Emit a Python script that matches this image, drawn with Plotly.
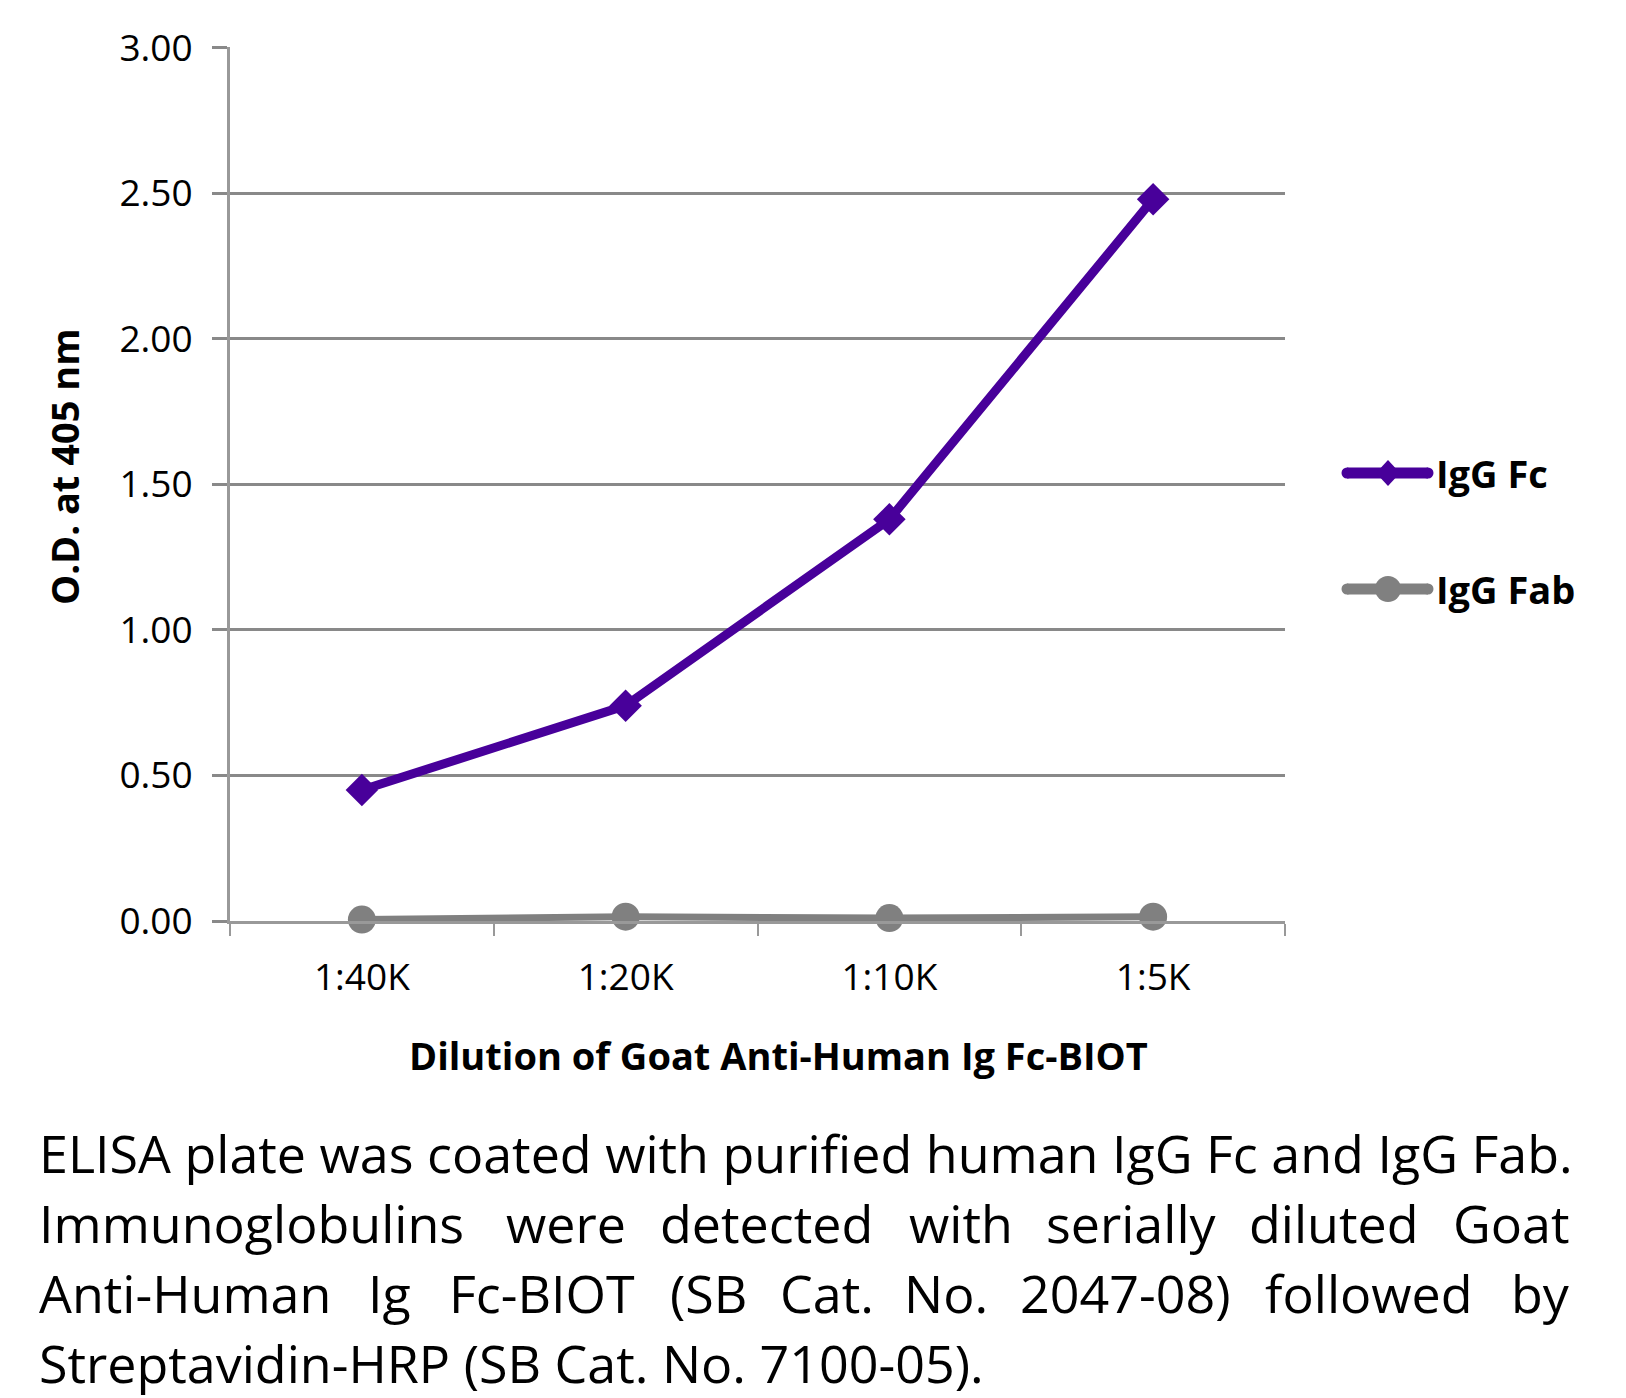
import plotly.graph_objects as go

# ---------------- data ----------------
dilutions = ["1:40K", "1:20K", "1:10K", "1:5K"]
igg_fc = [0.45, 0.74, 1.38, 2.48]
igg_fab = [0.005, 0.015, 0.01, 0.015]
y_ticks = [0.0, 0.5, 1.0, 1.5, 2.0, 2.5, 3.0]
y_tick_labels = ["0.00", "0.50", "1.00", "1.50", "2.00", "2.50", "3.00"]
series_names = ["IgG Fc", "IgG Fab"]

x_title = "Dilution of Goat Anti-Human Ig Fc-BIOT"
y_title = "O.D. at 405 nm"
caption_line1 = "ELISA plate was coated with purified human IgG Fc and IgG Fab."
caption_line2 = ["Immunoglobulins", "were", "detected", "with", "serially", "diluted", "Goat"]
caption_line3 = ["Anti-Human", "Ig", "Fc-BIOT", "(SB", "Cat.", "No.", "2047-08)", "followed", "by"]
caption_line4 = "Streptavidin-HRP (SB Cat. No. 7100-05)."

# ---------------- layout constants ----------------
W, H = 1626, 1398
L, R = 230, 1285          # plot area left/right (px)
T, B = 47, 921            # plot area top/bottom (px)
FONT = "Open Sans"
PURPLE = "#48009A"
GREY = "#808080"
GRID = "#898989"


def px_x(x):
    return (x - L) / (R - L)


def px_y(y):
    return (B - y) / (B - T)


fig = go.Figure()

fig.add_trace(go.Scatter(
    x=dilutions, y=igg_fab, name=series_names[1], mode="lines+markers",
    line=dict(color=GREY, width=7),
    marker=dict(symbol="circle", size=28, color=GREY),
    cliponaxis=False, showlegend=False,
))
fig.add_trace(go.Scatter(
    x=dilutions, y=igg_fc, name=series_names[0], mode="lines+markers",
    line=dict(color=PURPLE, width=9),
    marker=dict(symbol="diamond", size=25, color=PURPLE),
    cliponaxis=False, showlegend=False,
))

annotations = []
shapes = []

# axis titles
annotations.append(dict(
    text=x_title, x=px_x(778), y=px_y(1055), xref="paper", yref="paper",
    xanchor="center", yanchor="middle", showarrow=False,
    font=dict(family=FONT, size=38, color="black", weight=700),
))
annotations.append(dict(
    text=y_title, x=px_x(64), y=px_y(467), xref="paper", yref="paper",
    xanchor="center", yanchor="middle", showarrow=False, textangle=-90,
    font=dict(family=FONT, size=38, color="black", weight=700),
))

# ---------------- legend (drawn as layout items) ----------------
leg_rows = [473, 589]
leg_colors = [PURPLE, GREY]
leg_x0, leg_x1, leg_mid = 1347, 1428, 1388
for name, yc, col, sym in zip(series_names, leg_rows, leg_colors, ["diamond", "circle"]):
    shapes.append(dict(type="line", xref="paper", yref="paper",
                       x0=px_x(leg_x0), x1=px_x(leg_x1), y0=px_y(yc), y1=px_y(yc),
                       line=dict(color=col, width=11)))
    for ex in (leg_x0, leg_x1):
        shapes.append(dict(type="circle", xref="paper", yref="paper",
                           xsizemode="pixel", ysizemode="pixel",
                           xanchor=px_x(ex), yanchor=px_y(yc),
                           x0=-5.5, x1=5.5, y0=-5.5, y1=5.5,
                           fillcolor=col, line=dict(width=0)))
    if sym == "diamond":
        shapes.append(dict(type="path", xref="paper", yref="paper",
                           xsizemode="pixel", ysizemode="pixel",
                           xanchor=px_x(leg_mid), yanchor=px_y(yc),
                           path="M -12,0 L 0,13 L 12,0 L 0,-13 Z",
                           fillcolor=col, line=dict(width=0)))
    else:
        shapes.append(dict(type="circle", xref="paper", yref="paper",
                           xsizemode="pixel", ysizemode="pixel",
                           xanchor=px_x(leg_mid), yanchor=px_y(yc),
                           x0=-13, x1=13, y0=-13, y1=13,
                           fillcolor=col, line=dict(width=0)))
    annotations.append(dict(
        text=name, x=px_x(1434), y=px_y(yc), xref="paper", yref="paper",
        xanchor="left", yanchor="middle", showarrow=False,
        font=dict(family=FONT, size=38, color="black", weight=700),
    ))

# ---------------- caption ----------------
CAP_FS = 52
cap_font = dict(family=FONT, size=CAP_FS, color="black")
baselines = [1171, 1241, 1311, 1381]
LEFT_EDGE, RIGHT_EDGE = 37, 1572


def cap_y(b):
    return px_y(b - 0.36 * CAP_FS)


annotations.append(dict(
    text=caption_line1, x=px_x(LEFT_EDGE), y=cap_y(baselines[0]), xref="paper", yref="paper",
    xanchor="left", yanchor="middle", showarrow=False, font=cap_font,
))
annotations.append(dict(
    text=caption_line4, x=px_x(LEFT_EDGE), y=cap_y(baselines[3]), xref="paper", yref="paper",
    xanchor="left", yanchor="middle", showarrow=False, font=cap_font,
))

# justified lines: word centre positions (px)
line2_centres = [257, 566, 766, 961, 1131, 1334, 1512]
line3_centres = [180, 389, 542, 708, 827, 946, 1125, 1369, 1541]
for words, centres, b in [(caption_line2, line2_centres, baselines[1]),
                          (caption_line3, line3_centres, baselines[2])]:
    n = len(words)
    for i, (w, c) in enumerate(zip(words, centres)):
        if i == 0:
            xa, xp = "left", LEFT_EDGE
        elif i == n - 1:
            xa, xp = "right", RIGHT_EDGE
        else:
            xa, xp = "center", c
        annotations.append(dict(
            text=w, x=px_x(xp), y=cap_y(b), xref="paper", yref="paper",
            xanchor=xa, yanchor="middle", showarrow=False, font=cap_font,
        ))

fig.update_layout(
    width=W, height=H,
    margin=dict(l=L, r=W - R, t=T, b=H - B, pad=0),
    paper_bgcolor="white", plot_bgcolor="white",
    font=dict(family=FONT, color="black"),
    showlegend=False,
    annotations=annotations,
    shapes=shapes,
)

fig.update_xaxes(
    type="category", range=[-0.5, 3.5],
    showgrid=False, zeroline=False,
    showline=True, linecolor="#999999", linewidth=3,
    ticks="outside", tickson="boundaries", ticklen=12, tickwidth=2, tickcolor="#999999",
    tickfont=dict(family=FONT, size=37, color="black"),
    ticklabelstandoff=22,
)
fig.update_yaxes(
    range=[0, 3.003], tickvals=y_ticks, ticktext=y_tick_labels,
    showgrid=True, gridcolor=GRID, gridwidth=3,
    zeroline=False,
    showline=True, linecolor="#999999", linewidth=3,
    ticks="outside", ticklen=15, tickwidth=3, tickcolor=GRID,
    tickfont=dict(family=FONT, size=37, color="black"),
    ticklabelstandoff=12,
)

fig.write_html("out.html", config={"displayModeBar": False},
               post_script="document.body.style.margin='0';")
